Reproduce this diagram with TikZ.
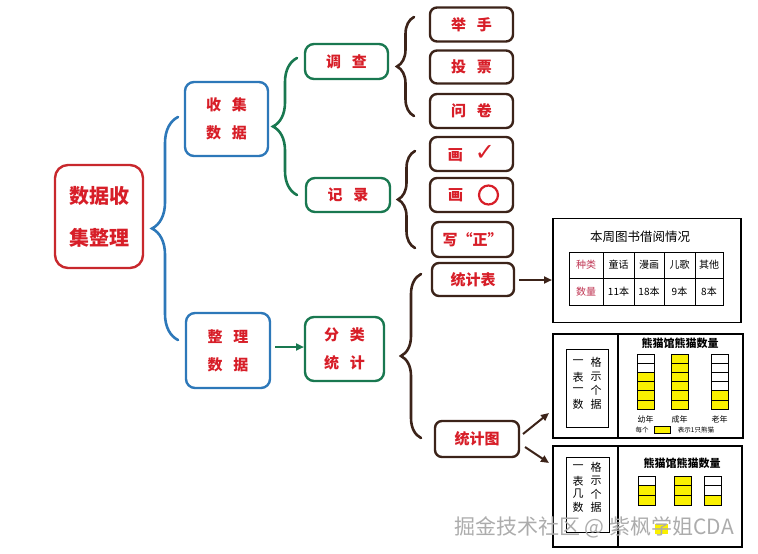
\documentclass[tikz,border=0pt]{standalone}
\usepackage{fontspec}
\newfontfamily\cjk{Noto Sans CJK SC}
\newfontfamily\djv{DejaVu Sans}
\usetikzlibrary{decorations.pathreplacing,arrows.meta}
\definecolor{tred}{RGB}{215,30,40}
\definecolor{mred}{RGB}{200,40,45}
\definecolor{bblue}{RGB}{45,120,185}
\definecolor{ggreen}{RGB}{25,120,80}
\definecolor{bbrown}{RGB}{60,35,25}
\definecolor{pinkred}{RGB}{190,50,80}
\definecolor{yel}{RGB}{250,240,0}
\tikzset{
 rbox/.style={draw, rounded corners=9pt, line width=2.4pt, inner sep=0pt, text=tred,
   font=\cjk\bfseries\fontsize{15}{28}\selectfont, align=center},
 bluebox/.style={rbox, draw=bblue},
 greenbox/.style={rbox, draw=ggreen},
 brownbox/.style={rbox, draw=bbrown, rounded corners=7pt, minimum width=83, minimum height=34},
 cbrace/.style={decorate, decoration={brace, amplitude=#1}, line width=2.6pt, line cap=round},
 panel/.style={draw, line width=1.2pt, inner sep=0pt},
 cell/.style={draw, line width=0.6pt},
 tt/.style={font=\cjk\fontsize{10}{10}\selectfont, inner sep=0pt},
 small/.style={font=\cjk\fontsize{8}{8}\selectfont, inner sep=0pt},
 arr/.style={line width=2pt, -{Triangle[length=8pt,width=7pt]}},
}
\begin{document}
\begin{tikzpicture}[x=1pt,y=-1pt]
\useasboundingbox (0,0) rectangle (758,554);

% main
\node[rbox, draw=mred, rounded corners=13pt, minimum width=88, minimum height=103,
  font=\cjk\bfseries\fontsize{20}{42}\selectfont] (main) at (99,216.5) {数据收\\集整理};
% level 1
\node[bluebox, minimum width=83, minimum height=74] (sj) at (226.5,119) {收\hspace{11pt}集\\数\hspace{11pt}据};
\node[bluebox, minimum width=84, minimum height=75] (zl) at (228,350.5) {整\hspace{11pt}理\\数\hspace{11pt}据};
% level 2
\node[greenbox, minimum width=83, minimum height=35] (dc) at (346.5,61.5) {调\hspace{11pt}查};
\node[greenbox, minimum width=84, minimum height=34] (jl) at (348,195) {记\hspace{11pt}录};
\node[greenbox, minimum width=79, minimum height=64] (fl) at (344.5,349) {分\hspace{11pt}类\\统\hspace{11pt}计};
% level 3
\node[brownbox] (js) at (471.5,24.5) {举\hspace{11pt}手};
\node[brownbox, minimum height=33] (tp) at (471.5,67) {投\hspace{11pt}票};
\node[brownbox] (wj) at (471.5,111) {问\hspace{11pt}卷};
\node[brownbox] (hg) at (471.5,154) {画\hspace{12pt}{\djv\fontsize{24}{24}\selectfont ✓}};
\node[brownbox] (hq) at (471.5,195) {画\hspace{32pt}\strut};
\draw[tred, line width=2.2pt] ([xshift=17pt]hq.center) circle (9.5);
\node[brownbox, minimum width=81, minimum height=35] (xz) at (472.5,239.5) {写“正”};
\node[brownbox, minimum width=82, minimum height=33] (tjb) at (473,279.5) {统计表};
\node[brownbox, minimum width=84, minimum height=36] (tjt) at (477,439) {统计图};

% braces
\draw[cbrace=26, bblue] (178,340) -- (178,117);
\draw[cbrace=24, ggreen] (297,195) -- (297,58);
\draw[cbrace=17, bbrown] (414,116) -- (414,17);
\draw[cbrace=17, bbrown] (415,248) -- (415,151);
\draw[cbrace=20, bbrown] (421,438) -- (421,274);

% green arrow
\coordinate (ga) at (275,347);
\coordinate (gb) at (304,347);
\draw[arr, ggreen, line width=2.6pt] (ga) -- (gb);

% table panel
\node[panel, minimum width=188, minimum height=104] (tbl) at (647,270.5) {};
\coordinate (ta) at (519,280);
\coordinate (tb) at (552,280);
\draw[arr, bbrown] (ta) -- (tb);
\node[font=\cjk\fontsize{12.5}{12.5}\selectfont, inner sep=0pt] (ttl) at (640,237) {本周图书借阅情况};
\draw[line width=1pt] (569,252) rectangle (723,305);
\draw[line width=1pt] (569,278) -- (723,278);
\foreach \x in {603,634,664,695} \draw[line width=1pt] (\x,252) -- (\x,305);
\node[tt, text=pinkred] at (586,265) {种类};
\node[tt] at (618.5,265) {童话};
\node[tt] at (649,265) {漫画};
\node[tt] at (679.5,265) {儿歌};
\node[tt] at (709,265) {其他};
\node[tt, text=pinkred] at (586,291.5) {数量};
\node[tt] at (618.5,291.5) {11本};
\node[tt] at (649,291.5) {18本};
\node[tt] at (679.5,291.5) {9本};
\node[tt] at (709,291.5) {8本};

% chart 1
\node[panel, minimum width=190, minimum height=104] (ch1) at (648,386) {};
\draw[line width=1.2pt] (618,334) -- (618,438);
\draw[line width=0.7pt] (566,349) rectangle (608,427);
\foreach \a/\b/\yy in {一/格/362,表/示/377,一/个/390,数/据/404}{
  \node[font=\cjk\fontsize{11}{11}\selectfont, inner sep=0pt] at (578,\yy) {\a};
  \node[font=\cjk\fontsize{11}{11}\selectfont, inner sep=0pt] at (596,\yy) {\b};
}
\node[font=\cjk\bfseries\fontsize{11}{11}\selectfont, inner sep=0pt] at (680,343) {熊猫馆熊猫数量};
\foreach \x/\n in {637/4,671/6,711/2}{
  \fill[yel] (\x,{409-\n*9.17}) rectangle (\x+17,409);
  \foreach \i in {0,...,5} \draw[cell] (\x,{354+\i*9.17}) rectangle (\x+17,{354+(\i+1)*9.17});
}
\node[small] at (645.5,419) {幼年};
\node[small] at (679.5,419) {成年};
\node[small] at (719.5,419) {老年};
\node[font=\cjk\fontsize{6.5}{6.5}\selectfont, inner sep=0pt] at (642,430) {每个};
\draw[cell, fill=yel] (654,426) rectangle (670,433);
\node[font=\cjk\fontsize{6.5}{6.5}\selectfont, inner sep=0pt] at (696,430) {表示1只熊猫};

% chart 2
\node[panel, minimum width=189, minimum height=101] (ch2) at (647.5,496.5) {};
\coordinate (c1a) at (523,434);
\coordinate (c1b) at (549,413);
\coordinate (c2a) at (525,447);
\coordinate (c2b) at (549,463);
\draw[arr, bbrown] (c1a) -- (c1b);
\draw[arr, bbrown] (c2a) -- (c2b);
\draw[line width=1.2pt] (618,446) -- (618,547);
\draw[line width=0.7pt] (566,457) rectangle (609,532);
\foreach \a/\b/\yy in {一/格/467,表/示/481,几/个/494,数/据/507}{
  \node[font=\cjk\fontsize{11}{11}\selectfont, inner sep=0pt] at (578,\yy) {\a};
  \node[font=\cjk\fontsize{11}{11}\selectfont, inner sep=0pt] at (596,\yy) {\b};
}
\node[font=\cjk\bfseries\fontsize{11}{11}\selectfont, inner sep=0pt] at (682,463) {熊猫馆熊猫数量};
\foreach \x/\n in {638/2,674/3,704/1}{
  \fill[yel] (\x,{505-\n*9.67}) rectangle (\x+17,505);
  \foreach \i in {0,...,2} \draw[cell] (\x,{476+\i*9.67}) rectangle (\x+17,{476+(\i+1)*9.67});
}
\fill[yel] (655,524) rectangle (668,534);

% watermark
\node[font=\cjk\fontsize{21}{21}\selectfont, text=gray!65, inner sep=0pt] (wm) at (594,527) {掘金技术社区 @ 紫枫学姐CDA};
\end{tikzpicture}
\end{document}
